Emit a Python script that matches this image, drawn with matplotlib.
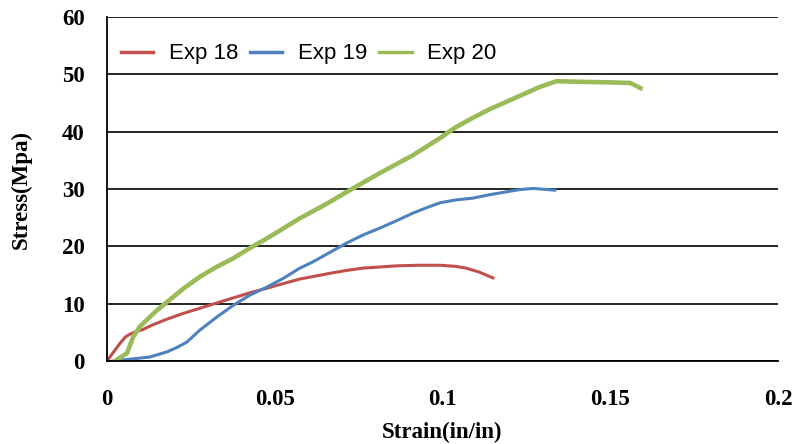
import matplotlib
matplotlib.use("Agg")
import matplotlib.pyplot as plt

# Exp 18 (red)
exp18_strain = [0.0, 0.0020, 0.0039, 0.0055, 0.0069, 0.0085, 0.0107, 0.0140, 0.0179, 0.0227, 0.0277,
                0.0326, 0.0376, 0.0426, 0.0477, 0.0525, 0.0575, 0.0620, 0.0665, 0.0714, 0.0763,
                0.0814, 0.0864, 0.0930, 0.0993, 0.1040, 0.1070, 0.1110, 0.1150]
exp18_stress = [0.0, 1.6, 3.1, 4.2, 4.7, 5.1, 5.5, 6.4, 7.3, 8.3, 9.2,
                10.1, 11.0, 11.9, 12.7, 13.5, 14.3, 14.8, 15.3, 15.8, 16.2,
                16.4, 16.6, 16.7, 16.7, 16.5, 16.2, 15.5, 14.5]

# Exp 19 (blue)
exp19_strain = [0.002, 0.0066, 0.0128, 0.0179, 0.0210, 0.0238, 0.0277, 0.0328, 0.0376, 0.0426,
                0.0477, 0.0525, 0.0575, 0.0614, 0.0666, 0.0715, 0.0764, 0.0814, 0.0864, 0.0912,
                0.0960, 0.0993, 0.1040, 0.1090, 0.1140, 0.1190, 0.1230, 0.1270, 0.1335]
exp19_stress = [0.0, 0.3, 0.7, 1.6, 2.4, 3.3, 5.4, 7.7, 9.7, 11.5,
                12.9, 14.4, 16.2, 17.3, 19.0, 20.6, 22.0, 23.2, 24.5, 25.8,
                26.9, 27.6, 28.1, 28.4, 29.0, 29.5, 29.9, 30.1, 29.8]

# Exp 20 (green)
exp20_strain = [0.0024, 0.006, 0.0078, 0.0098, 0.0128, 0.0150, 0.0179, 0.0227, 0.0277, 0.0326,
                0.0376, 0.0426, 0.0477, 0.0525, 0.0575, 0.0651, 0.0715, 0.0814, 0.0912, 0.0993,
                0.1040, 0.1090, 0.1140, 0.1190, 0.1240, 0.1290, 0.1340, 0.1410, 0.1500, 0.1560,
                0.1590]
exp20_stress = [0.0, 1.4, 4.2, 6.0, 7.7, 8.9, 10.3, 12.6, 14.7, 16.4,
                17.9, 19.7, 21.4, 23.1, 24.9, 27.3, 29.5, 32.8, 35.9, 38.9,
                40.8, 42.4, 43.9, 45.2, 46.5, 47.8, 48.8, 48.7, 48.6, 48.5,
                47.6]

x_ticks = [0, 0.05, 0.1, 0.15, 0.2]
x_tick_labels = ["0", "0.05", "0.1", "0.15", "0.2"]
y_ticks = [0, 10, 20, 30, 40, 50, 60]

fig = plt.figure(figsize=(7.96, 4.44), dpi=100)
ax = fig.add_axes([107/796, 1-361/444, (778-107)/796, (361-17)/444])

ax.plot(exp18_strain, exp18_stress, color="#C0504D", lw=2.2, label="Exp 18", zorder=3)
ax.plot(exp19_strain, exp19_stress, color="#4F81BD", lw=2.2, label="Exp 19", zorder=3)
ax.plot(exp20_strain, exp20_stress, color="#9BBB59", lw=3.3, label="Exp 20", zorder=3)

ax.set_xlim(0, 0.2)
ax.set_ylim(0, 60)
ax.set_xticks(x_ticks)
ax.set_xticklabels(x_tick_labels)
ax.set_yticks(y_ticks)
ax.yaxis.grid(True, color="black", lw=1.2)
ax.set_axisbelow(True)
for s in ["top", "right"]:
    ax.spines[s].set_visible(False)
for s in ["left", "bottom"]:
    ax.spines[s].set_linewidth(1.3)
    ax.spines[s].set_color("black")
    ax.spines[s].set_zorder(4)

serif = ["Liberation Serif", "DejaVu Serif"]
ax.tick_params(axis="both", length=0, labelsize=16.5)
ax.tick_params(axis="y", pad=16)
ax.tick_params(axis="x", pad=20)
for lab in ax.get_xticklabels() + ax.get_yticklabels():
    lab.set_fontfamily(serif)
    lab.set_fontweight("bold")

ax.set_xlabel("Strain(in/in)", fontsize=16.5, fontweight="bold", family=serif, labelpad=9)
ax.set_ylabel("Stress(Mpa)", fontsize=16.5, fontweight="bold", family=serif, labelpad=22)

leg = ax.legend(loc="upper left", bbox_to_anchor=(-0.006, 0.975), ncol=3, frameon=True,
                facecolor="white", edgecolor="none", framealpha=1,
                prop={"family": ["Liberation Sans", "DejaVu Sans"], "size": 16},
                handlelength=1.45, handletextpad=0.7, columnspacing=0.55, borderpad=0.3)
for h in leg.get_lines():
    h.set_linewidth(2.5)

fig.savefig("out.png", dpi=100)
